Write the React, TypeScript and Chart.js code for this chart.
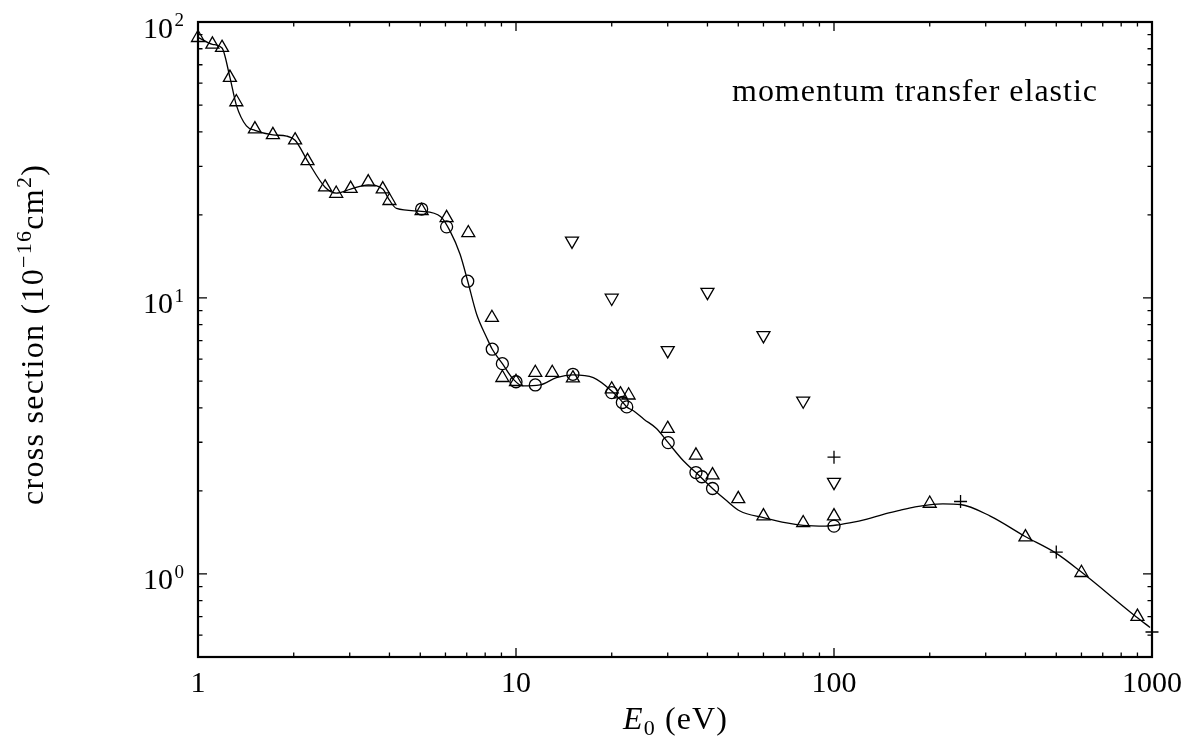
import React, { useEffect, useRef } from 'react';
import { Chart, registerables } from 'chart.js';

Chart.register(...registerables);

const FONT = '"Liberation Serif", "Times New Roman", serif';

// Axis ranges and tick labels
const X_MIN = 1;
const X_MAX = 1000;
const Y_MIN = 0.5;
const Y_MAX = 100;
const xTickValues = [1, 10, 100, 1000];
const xTickLabels = ['1', '10', '100', '1000'];
const yTickValues = [1, 10, 100];
const yTickExponents = ['0', '1', '2'];
const annotationText = 'momentum transfer elastic';

// Recommended smooth curve
const curveE = [1.0, 1.11, 1.19, 1.26, 1.32, 1.42, 1.51, 1.72, 1.9, 2.02, 2.21, 2.51, 2.72, 3.02, 3.43, 3.81, 4.0, 4.21, 5.05, 5.8, 6.2, 6.67, 7.05, 7.52, 8.09, 8.42, 9.06, 9.8, 10.5, 11.9, 13.4, 15.1, 17.5, 20.0, 21.6, 22.3, 23.4, 25.3, 27.7, 30.1, 33.6, 36.8, 41.5, 46, 50.6, 60, 71, 80, 94, 104.5, 112, 127, 143, 161, 180, 199, 220, 250, 310, 398, 499, 597, 891, 986];
const curveQ = [88, 83, 80.5, 63, 50, 42, 40.5, 39, 38.6, 37.3, 31.4, 25.2, 24.0, 24.8, 25.7, 24.8, 22.6, 21.1, 20.6, 19.7, 17.5, 14.4, 11.5, 8.73, 7.18, 6.52, 5.78, 5.08, 4.8, 4.84, 5.14, 5.26, 5.14, 4.6, 4.2, 4.03, 3.9, 3.63, 3.36, 2.99, 2.57, 2.33, 2.04, 1.84, 1.69, 1.6, 1.53, 1.5, 1.49, 1.51, 1.53, 1.58, 1.645, 1.7, 1.75, 1.78, 1.795, 1.785, 1.62, 1.37, 1.19, 1.02, 0.7, 0.64];

// Up-triangle data
const triUpE = [1, 1.11, 1.19, 1.26, 1.32, 1.51, 1.72, 2.02, 2.21, 2.51, 2.72, 3.02, 3.43, 3.81, 4.0, 5.05, 6.05, 7.08, 8.4, 9.06, 10, 11.5, 13, 15.1, 20, 21.3, 22.6, 30, 36.8, 41.5, 50, 60, 80, 100, 200, 400, 600, 900];
const triUpQ = [87.7, 83, 80.7, 62.9, 51.3, 40.9, 39, 37.3, 31.4, 25.2, 23.9, 24.9, 26.3, 24.8, 22.5, 20.7, 19.5, 17.2, 8.48, 5.14, 4.97, 5.36, 5.36, 5.12, 4.67, 4.48, 4.44, 3.36, 2.69, 2.28, 1.87, 1.62, 1.53, 1.62, 1.8, 1.36, 1.01, 0.7];

// Circle data
const circleE = [5.05, 6.05, 7.05, 8.42, 9.06, 10, 11.5, 15.1, 20, 21.6, 22.3, 30.1, 36.8, 38.4, 41.5, 100];
const circleQ = [21, 18.1, 11.5, 6.52, 5.78, 4.97, 4.84, 5.29, 4.54, 4.18, 4.03, 2.99, 2.33, 2.25, 2.04, 1.49];

// Down-triangle data
const triDownE = [15, 20, 30, 40, 60, 80, 100];
const triDownQ = [16.1, 10.0, 6.46, 10.5, 7.32, 4.24, 2.15];

// Plus data
const plusE = [100, 250, 500, 1000];
const plusQ = [2.65, 1.83, 1.2, 0.616];

const pts = (xs: number[], ys: number[]) => xs.map((x, i) => ({ x, y: ys[i] }));

type Seg = { t: string; size: number; dy: number; italic?: boolean };

function fontOf(s: Seg) {
  return `${s.italic ? 'italic ' : ''}${s.size}px ${FONT}`;
}

function drawSegs(ctx: CanvasRenderingContext2D, segs: Seg[], x: number, y: number, target: number) {
  let natural = 0;
  let n = 0;
  for (const s of segs) {
    ctx.font = fontOf(s);
    for (const ch of s.t) {
      natural += ctx.measureText(ch).width;
      n++;
    }
  }
  const sp = n > 1 ? Math.max(0, (target - natural) / (n - 1)) : 0;
  let cx = x;
  ctx.textAlign = 'left';
  ctx.textBaseline = 'alphabetic';
  for (const s of segs) {
    ctx.font = fontOf(s);
    for (const ch of s.t) {
      ctx.fillText(ch, cx, y + s.dy);
      cx += ctx.measureText(ch).width + sp;
    }
  }
}

const decorPlugin = {
  id: 'decor',
  afterDatasetsDraw(chart: any) {
    const { ctx, chartArea: a, scales } = chart;
    const xs = scales.x;
    const ys = scales.y;
    ctx.save();
    ctx.strokeStyle = '#000';
    ctx.fillStyle = '#000';

    // ticks on all four sides, pointing inward
    ctx.lineWidth = 1.3;
    ctx.beginPath();
    for (let e = 0; e <= 3; e++) {
      for (let m = 1; m <= 9; m++) {
        const v = m * Math.pow(10, e);
        if (v > X_MAX + 1e-9) break;
        const px = xs.getPixelForValue(v);
        const len = m === 1 ? 9 : 4.5;
        ctx.moveTo(px, a.bottom);
        ctx.lineTo(px, a.bottom - len);
        ctx.moveTo(px, a.top);
        ctx.lineTo(px, a.top + len);
      }
    }
    for (let e = -1; e <= 2; e++) {
      for (let m = 1; m <= 9; m++) {
        const v = e < 0 ? m / 10 : m * Math.pow(10, e);
        if (v < Y_MIN - 1e-9 || v > Y_MAX + 1e-9) continue;
        const py = ys.getPixelForValue(v);
        const len = m === 1 ? 9 : 4.5;
        ctx.moveTo(a.left, py);
        ctx.lineTo(a.left + len, py);
        ctx.moveTo(a.right, py);
        ctx.lineTo(a.right - len, py);
      }
    }
    ctx.stroke();

    // frame
    ctx.lineWidth = 2.2;
    ctx.strokeRect(a.left, a.top, a.right - a.left, a.bottom - a.top);

    // x tick labels
    ctx.font = `30px ${FONT}`;
    ctx.textAlign = 'center';
    ctx.textBaseline = 'alphabetic';
    xTickValues.forEach((v, i) => {
      ctx.fillText(xTickLabels[i], xs.getPixelForValue(v), a.bottom + 35);
    });

    // y tick labels 10^n
    yTickValues.forEach((v, i) => {
      const py = ys.getPixelForValue(v);
      ctx.textAlign = 'right';
      ctx.font = `30px ${FONT}`;
      ctx.fillText('10', a.left - 25, py + 15.5);
      ctx.font = `19px ${FONT}`;
      ctx.fillText(yTickExponents[i], a.left - 14, py + 4);
    });

    // annotation inside the plot
    drawSegs(ctx, [{ t: annotationText, size: 32, dy: 0 }], 732, 101, 365);

    // x axis title
    const cxTitle = (a.left + a.right) / 2;
    drawSegs(
      ctx,
      [
        { t: 'E', size: 32, dy: 0, italic: true },
        { t: '0', size: 22, dy: 6 },
        { t: ' (eV)', size: 32, dy: 0 },
      ],
      cxTitle - 52,
      729,
      104
    );

    // y axis title (rotated)
    ctx.save();
    ctx.translate(43, 335);
    ctx.rotate(-Math.PI / 2);
    drawSegs(
      ctx,
      [
        { t: 'cross section (10', size: 32, dy: 0 },
        { t: '\u221216', size: 22, dy: -12 },
        { t: 'cm', size: 32, dy: 0 },
        { t: '2', size: 22, dy: -12 },
        { t: ')', size: 32, dy: 0 },
      ],
      -170,
      0,
      340
    );
    ctx.restore();

    ctx.restore();
  },
};

export default function App() {
  const ref = useRef<HTMLCanvasElement>(null);

  useEffect(() => {
    const markerBase = {
      type: 'scatter' as const,
      showLine: false,
      clip: false as any,
      pointBorderColor: '#000',
      pointBackgroundColor: 'rgba(0,0,0,0)',
      pointBorderWidth: 1.3,
      pointHoverRadius: 0,
    };
    const chart = new Chart(ref.current!, {
      type: 'scatter',
      data: {
        datasets: [
          {
            type: 'line',
            data: pts(curveE, curveQ),
            borderColor: '#000',
            borderWidth: 1.3,
            pointRadius: 0,
            fill: false,
            cubicInterpolationMode: 'monotone',
            clip: false as any,
          } as any,
          {
            ...markerBase,
            data: pts(triUpE, triUpQ),
            pointStyle: 'triangle',
            pointRadius: 7.5,
          } as any,
          {
            ...markerBase,
            data: pts(circleE, circleQ),
            pointStyle: 'circle',
            pointRadius: 6,
          } as any,
          {
            ...markerBase,
            data: pts(triDownE, triDownQ),
            pointStyle: 'triangle',
            pointRotation: 180,
            rotation: 180,
            pointRadius: 7.5,
          } as any,
          {
            ...markerBase,
            data: pts(plusE, plusQ),
            pointStyle: 'cross',
            pointRadius: 6.5,
          } as any,
        ],
      },
      options: {
        animation: false,
        responsive: false,
        devicePixelRatio: 1,
        events: [],
        layout: { padding: { left: 198, right: 34, top: 22, bottom: 85 } },
        scales: {
          x: { type: 'logarithmic', min: X_MIN, max: X_MAX, display: false },
          y: { type: 'logarithmic', min: Y_MIN, max: Y_MAX, display: false },
        },
        plugins: {
          legend: { display: false },
          tooltip: { enabled: false },
        },
      },
      plugins: [decorPlugin],
    } as any);
    return () => chart.destroy();
  }, []);

  return (
    <div style={{ position: 'absolute', left: 0, top: 0, width: 1186, height: 742, background: '#fff' }}>
      <canvas ref={ref} width={1186} height={742} style={{ display: 'block', width: 1186, height: 742 }} />
    </div>
  );
}
